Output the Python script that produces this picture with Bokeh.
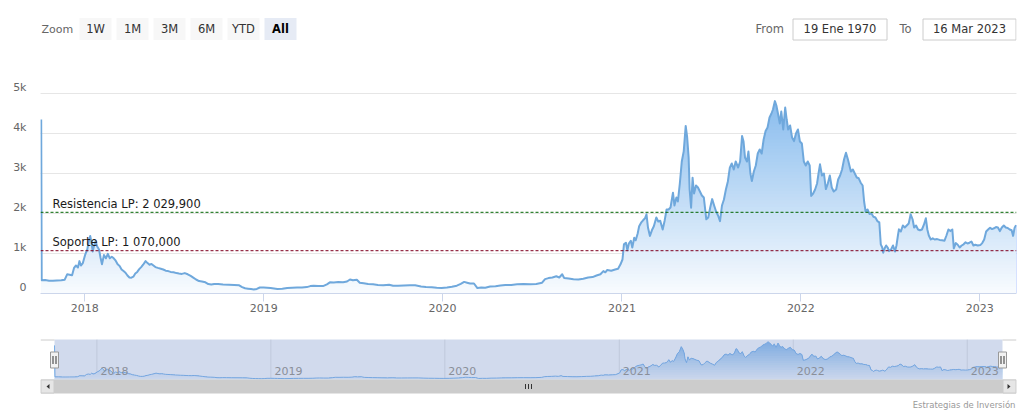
import numpy as np
from bokeh.plotting import figure
from bokeh.models import Range1d, LinearAxis, FixedTicker, DatetimeTickFormatter, Grid, Span, Label
from bokeh.layouts import column
from bokeh.core.properties import value
from bokeh.embed import file_html
from bokeh.resources import INLINE

# ---------------- data ----------------
dates = [
    "2017-10-04", "2017-10-05", "2017-10-12", "2017-10-20", "2017-10-28", "2017-11-05", "2017-11-14", "2017-11-21",
    "2017-11-26", "2017-12-01", "2017-12-06", "2017-12-10", "2017-12-14", "2017-12-18", "2017-12-21", "2017-12-24",
    "2017-12-28", "2018-01-02", "2018-01-06", "2018-01-09", "2018-01-12", "2018-01-15", "2018-01-17", "2018-01-20",
    "2018-01-23", "2018-01-26", "2018-01-30", "2018-02-02", "2018-02-05", "2018-02-09", "2018-02-13", "2018-02-17",
    "2018-02-21", "2018-02-25", "2018-03-01", "2018-03-05", "2018-03-09", "2018-03-13", "2018-03-17", "2018-03-21",
    "2018-03-25", "2018-03-29", "2018-04-02", "2018-04-06", "2018-04-10", "2018-04-14", "2018-04-18", "2018-04-22",
    "2018-04-26", "2018-04-30", "2018-05-05", "2018-05-09", "2018-05-13", "2018-05-17", "2018-05-21", "2018-05-25",
    "2018-05-30", "2018-06-05", "2018-06-10", "2018-06-15", "2018-06-20", "2018-06-25", "2018-07-01", "2018-07-07",
    "2018-07-12", "2018-07-18", "2018-07-24", "2018-07-30", "2018-08-05", "2018-08-11", "2018-08-16", "2018-08-22",
    "2018-08-28", "2018-09-04", "2018-09-10", "2018-09-16", "2018-09-22", "2018-09-30", "2018-10-10", "2018-10-22",
    "2018-11-02", "2018-11-12", "2018-11-18", "2018-11-24", "2018-11-30", "2018-12-06", "2018-12-12", "2018-12-18",
    "2018-12-24", "2019-01-01", "2019-01-08", "2019-01-15", "2019-01-22", "2019-01-29", "2019-02-08", "2019-02-18",
    "2019-02-28", "2019-03-10", "2019-03-20", "2019-03-30", "2019-04-06", "2019-04-13", "2019-04-22", "2019-05-02",
    "2019-05-10", "2019-05-16", "2019-05-24", "2019-06-02", "2019-06-12", "2019-06-20", "2019-06-26", "2019-07-02",
    "2019-07-10", "2019-07-16", "2019-07-24", "2019-08-02", "2019-08-12", "2019-08-22", "2019-09-02", "2019-09-14",
    "2019-09-22", "2019-10-02", "2019-10-14", "2019-10-26", "2019-11-06", "2019-11-18", "2019-11-28", "2019-12-10",
    "2019-12-20", "2019-12-30", "2020-01-10", "2020-01-20", "2020-01-30", "2020-02-07", "2020-02-14", "2020-02-20",
    "2020-02-26", "2020-03-05", "2020-03-12", "2020-03-20", "2020-03-28", "2020-04-07", "2020-04-18", "2020-04-28",
    "2020-05-08", "2020-05-20", "2020-06-01", "2020-06-14", "2020-06-28", "2020-07-10", "2020-07-22", "2020-07-28",
    "2020-08-04", "2020-08-12", "2020-08-20", "2020-08-26", "2020-09-01", "2020-09-05", "2020-09-14", "2020-09-24",
    "2020-10-04", "2020-10-14", "2020-10-24", "2020-11-02", "2020-11-10", "2020-11-18", "2020-11-24", "2020-11-28",
    "2020-12-02", "2020-12-10", "2020-12-18", "2020-12-24", "2020-12-29", "2021-01-02", "2021-01-05", "2021-01-09",
    "2021-01-12", "2021-01-15", "2021-01-19", "2021-01-22", "2021-01-26", "2021-01-29", "2021-02-02", "2021-02-05",
    "2021-02-09", "2021-02-13", "2021-02-17", "2021-02-20", "2021-02-23", "2021-02-27", "2021-03-03", "2021-03-07",
    "2021-03-12", "2021-03-16", "2021-03-20", "2021-03-25", "2021-03-29", "2021-04-02", "2021-04-06", "2021-04-10",
    "2021-04-15", "2021-04-18", "2021-04-22", "2021-04-25", "2021-04-29", "2021-05-03", "2021-05-07", "2021-05-11",
    "2021-05-14", "2021-05-17", "2021-05-19", "2021-05-22", "2021-05-25", "2021-05-28", "2021-06-01", "2021-06-05",
    "2021-06-09", "2021-06-13", "2021-06-17", "2021-06-22", "2021-06-26", "2021-06-30", "2021-07-04", "2021-07-08",
    "2021-07-12", "2021-07-16", "2021-07-20", "2021-07-24", "2021-07-28", "2021-08-01", "2021-08-05", "2021-08-09",
    "2021-08-13", "2021-08-17", "2021-08-21", "2021-08-26", "2021-08-30", "2021-09-03", "2021-09-06", "2021-09-09",
    "2021-09-13", "2021-09-16", "2021-09-20", "2021-09-23", "2021-09-27", "2021-10-01", "2021-10-05", "2021-10-09",
    "2021-10-13", "2021-10-17", "2021-10-21", "2021-10-25", "2021-10-29", "2021-11-02", "2021-11-05", "2021-11-09",
    "2021-11-12", "2021-11-16", "2021-11-19", "2021-11-22", "2021-11-26", "2021-11-30", "2021-12-03", "2021-12-06",
    "2021-12-10", "2021-12-14", "2021-12-18", "2021-12-22", "2021-12-26", "2021-12-30", "2022-01-03", "2022-01-07",
    "2022-01-11", "2022-01-15", "2022-01-19", "2022-01-22", "2022-01-26", "2022-01-30", "2022-02-03", "2022-02-06",
    "2022-02-09", "2022-02-13", "2022-02-17", "2022-02-21", "2022-02-25", "2022-03-01", "2022-03-05", "2022-03-09",
    "2022-03-14", "2022-03-18", "2022-03-22", "2022-03-26", "2022-03-30", "2022-04-03", "2022-04-07", "2022-04-10",
    "2022-04-13", "2022-04-17", "2022-04-21", "2022-04-25", "2022-04-29", "2022-05-03", "2022-05-07", "2022-05-10",
    "2022-05-13", "2022-05-17", "2022-05-21", "2022-05-25", "2022-05-29", "2022-06-02", "2022-06-06", "2022-06-10",
    "2022-06-13", "2022-06-16", "2022-06-18", "2022-06-21", "2022-06-24", "2022-06-27", "2022-06-30", "2022-07-04",
    "2022-07-08", "2022-07-12", "2022-07-15", "2022-07-18", "2022-07-20", "2022-07-24", "2022-07-28", "2022-08-01",
    "2022-08-05", "2022-08-09", "2022-08-13", "2022-08-17", "2022-08-20", "2022-08-24", "2022-08-28", "2022-09-01",
    "2022-09-05", "2022-09-09", "2022-09-13", "2022-09-16", "2022-09-19", "2022-09-23", "2022-09-27", "2022-10-01",
    "2022-10-06", "2022-10-11", "2022-10-16", "2022-10-21", "2022-10-25", "2022-10-29", "2022-11-02", "2022-11-06",
    "2022-11-09", "2022-11-13", "2022-11-17", "2022-11-21", "2022-11-25", "2022-11-29", "2022-12-03", "2022-12-07",
    "2022-12-11", "2022-12-15", "2022-12-19", "2022-12-23", "2022-12-28", "2023-01-02", "2023-01-06", "2023-01-10",
    "2023-01-14", "2023-01-18", "2023-01-22", "2023-01-26", "2023-01-30", "2023-02-03", "2023-02-07", "2023-02-11",
    "2023-02-15", "2023-02-19", "2023-02-23", "2023-02-27", "2023-03-03", "2023-03-07", "2023-03-10", "2023-03-13",
    "2023-03-16",
]
prices = [
    4350, 330, 335, 320, 318, 325, 330, 345,
    480, 470, 455, 640, 700, 650, 810, 700,
    760, 980, 1100, 1300, 1440, 1250, 1050, 1200,
    1310, 1180, 1100, 900, 730, 960, 880, 990,
    880, 920, 880, 820, 730, 690, 600, 560,
    520, 450, 400, 395, 420, 500, 540, 610,
    660, 720, 810, 760, 720, 740, 700, 660,
    640, 620, 600, 570, 560, 540, 530, 510,
    500, 490, 510, 480, 440, 390, 350, 310,
    300, 280, 235, 225, 240, 235, 225, 220,
    215, 205, 160, 130, 120, 110, 100, 115,
    150, 150, 145, 135, 125, 115, 120, 140,
    145, 150, 150, 160, 185, 195, 185, 185,
    230, 280, 275, 285, 280, 300, 350, 330,
    345, 270, 255, 240, 230, 215, 205, 220,
    195, 195, 200, 205, 205, 175, 160, 155,
    145, 140, 150, 170, 195, 240, 290, 270,
    250, 250, 135, 150, 145, 175, 180, 200,
    210, 215, 230, 235, 230, 240, 270, 360,
    385, 400, 430, 400, 480, 390, 375, 355,
    350, 370, 400, 410, 450, 480, 560, 530,
    590, 570, 600, 620, 730, 850, 1230, 1270,
    1080, 1250, 1320, 1150, 1395, 1330, 1500, 1680,
    1770, 1830, 1880, 1980, 1650, 1440, 1580, 1680,
    1900, 1800, 1820, 1600, 1820, 2100, 2100, 2150,
    2520, 2200, 2400, 2300, 2750, 3300, 3560, 4190,
    3900, 3400, 2600, 2145, 2895, 2500, 2700, 2650,
    2550, 2450, 2400, 1855, 1900, 2150, 2360, 2200,
    2050, 1950, 1810, 2200, 2350, 2600, 2800, 3145,
    3250, 3100, 3300, 3150, 3300, 3940, 3800, 3400,
    3300, 3550, 3000, 2810, 3050, 3200, 3500, 3600,
    3500, 3850, 4060, 4150, 4400, 4500, 4600, 4810,
    4700, 4450, 4250, 4550, 4100, 4650, 4350, 4100,
    4200, 3900, 3810, 4000, 4100, 3800, 3750, 3300,
    3200, 3300, 3200, 2440, 2500, 2600, 2750, 3000,
    3230, 2950, 3000, 2610, 2750, 2950, 2650, 2550,
    2600, 2850, 2950, 3100, 3350, 3520, 3350, 3200,
    3050, 3100, 3000, 2900, 2880, 2770, 2700, 2300,
    2050, 2100, 1990, 2000, 1920, 1900, 1810, 1780,
    1230, 1150, 1020, 1130, 1200, 1150, 1060, 1100,
    1200, 1050, 1200, 1450, 1605, 1550, 1700, 1650,
    1700, 1750, 1980, 1850, 1650, 1700, 1600, 1580,
    1600, 1720, 1880, 1600, 1450, 1350, 1380, 1350,
    1360, 1340, 1330, 1320, 1450, 1600, 1560, 1600,
    1130, 1260, 1220, 1150, 1200, 1230, 1280, 1250,
    1270, 1300, 1200, 1220, 1200, 1210, 1260, 1350,
    1550, 1600, 1645, 1610, 1630, 1660, 1650, 1560,
    1650, 1700, 1650, 1640, 1600, 1580, 1440, 1640,
    1710,
]
year_ticks = ["2018-01-01", "2019-01-01", "2020-01-01", "2021-01-01", "2022-01-01", "2023-01-01"]
year_labels = ["2018", "2019", "2020", "2021", "2022", "2023"]
y_ticks = [0, 1000, 2000, 3000, 4000, 5000]
y_tick_labels = ["0", "1k", "2k", "3k", "4k", "5k"]
y_grid = [1000, 2000, 3000, 4000, 5000, 6000]
y_max = 6000
view_start = "2017-10-02T14:00"
view_end = "2023-03-16T22:00"
resist_level = 2029.9
resist_label = "Resistencia LP: 2 029,900"
support_level = 1070.0
support_label = "Soporte LP: 1 070,000"
zoom_title = "Zoom"
zoom_buttons = ["1W", "1M", "3M", "6M", "YTD", "All"]
selected_button = "All"
from_label, to_label = "From", "To"
date_from = "19 Ene 1970"
date_to = "16 Mar 2023"
credit = "Estrategias de Inversión"

FONT = "DejaVu Sans"
W = 1024                 # page width used
FL, FR = 40, 1016        # plot frame left / right (page px)
BORDER = dict(min_border_left=FL, min_border_right=W - FR)
MAIN_FRAME_H = 240

t = np.array(dates, dtype="datetime64[ms]").astype("int64").astype(float)
v = np.array(prices, dtype=float)
yt = np.array(year_ticks, dtype="datetime64[ms]").astype("int64").astype(float)
x0 = float(np.datetime64(view_start, "ms").astype("int64"))
x1 = float(np.datetime64(view_end, "ms").astype("int64"))


def grad(f):
    a = 0.05 + 0.85 * f
    base = (124, 181, 236)
    c = [int(round(255 - (255 - b) * a)) for b in base]
    return "#%02x%02x%02x" % tuple(c)


def bare(fig):
    fig.outline_line_color = None
    fig.xgrid.visible = False
    fig.ygrid.visible = False


# ---------------- header (range selector), page coords ----------------
HT, HB = 0, 53
h = figure(width=W, height=HB - HT, x_range=Range1d(FL, FR), y_range=Range1d(HB, HT),
           x_axis_location=None, y_axis_location=None, toolbar_location=None,
           output_backend="svg", min_border_top=0, min_border_bottom=0, **BORDER)
bare(h)
ty = 28.5
h.text(x=[41], y=[ty], text=[zoom_title], text_font=value(FONT), text_font_size="11px",
       text_color="#666666", text_align="left", text_baseline="middle")
bx = [95 + 37 * i for i in range(len(zoom_buttons))]
fills = ["#e6ebf5" if b == selected_button else "#f7f7f7" for b in zoom_buttons]
h.quad(left=[c - 16 for c in bx], right=[c + 16 for c in bx], top=[17.5] * len(bx), bottom=[39.5] * len(bx),
       fill_color=fills, line_color=None)
norm = [i for i, b in enumerate(zoom_buttons) if b != selected_button]
sel = [i for i, b in enumerate(zoom_buttons) if b == selected_button]
h.text(x=[bx[i] for i in norm], y=[ty] * len(norm), text=[zoom_buttons[i] for i in norm],
       text_font=value(FONT), text_font_size="11.5px", text_color="#333333",
       text_align="center", text_baseline="middle")
h.text(x=[bx[i] for i in sel], y=[ty] * len(sel), text=[zoom_buttons[i] for i in sel],
       text_font=value(FONT), text_font_size="11.5px", text_font_style="bold", text_color="#000000",
       text_align="center", text_baseline="middle")
h.text(x=[755, 899], y=[ty, ty], text=[from_label, to_label], text_font=value(FONT),
       text_font_size="11.5px", text_color="#666666", text_align="left", text_baseline="middle")
h.quad(left=[792.5, 922.5], right=[886.5, 1015.5], top=[18.5, 18.5], bottom=[39.5, 39.5],
       fill_color="#ffffff", line_color="#cccccc", line_width=1)
h.text(x=[839.5, 969], y=[ty, ty], text=[date_from, date_to], text_font=value(FONT),
       text_font_size="11.5px", text_color="#333333", text_align="center", text_baseline="middle")

# ---------------- main chart ----------------
p = figure(width=W, height=MAIN_FRAME_H + 32, x_range=Range1d(x0, x1), y_range=Range1d(0, y_max),
           x_axis_type="datetime", y_axis_location=None, toolbar_location=None,
           output_backend="svg", min_border_top=0, min_border_bottom=32, **BORDER)
p.outline_line_color = None
p.xgrid.visible = False
p.add_layout(Grid(dimension=1, ticker=FixedTicker(ticks=y_grid), grid_line_color="#e6e6e6"), "center")

vmax = v.max()
N = 60
for k in range(N):
    top = vmax * (1 - k / N)
    mid = vmax * (1 - (k + 0.5) / N)
    p.varea(x=t, y1=0, y2=np.minimum(v, top), fill_color=grad(mid / vmax), fill_alpha=1.0)
p.line(t, v, line_color="#6fa8dc", line_width=2, line_join="round")

p.add_layout(Span(location=resist_level, dimension="width", line_color="#006400",
                  line_dash="3 2", line_width=1))
p.add_layout(Span(location=support_level, dimension="width", line_color="#800020",
                  line_dash="3 2", line_width=1))
ms_per_px = (x1 - x0) / (FR - FL)
val_per_px = y_max / MAIN_FRAME_H
for lvl, txt in [(resist_level, resist_label), (support_level, support_label)]:
    p.add_layout(Label(x=x0 + 12 * ms_per_px, y=lvl + 8.5 * val_per_px, text=txt, text_font=FONT,
                       text_font_size="11.5px", text_color="#1a1a1a", text_baseline="alphabetic"))

xa = p.xaxis[0]
xa.ticker = FixedTicker(ticks=list(yt))
xa.formatter = DatetimeTickFormatter(years="%Y", months="%Y", days="%Y", hours="%Y",
                                     minutes="%Y", seconds="%Y", milliseconds="%Y", microseconds="%Y")
xa.axis_line_color = "#ccd6eb"
xa.major_tick_line_color = "#ccd6eb"
xa.major_tick_out = 8
xa.major_tick_in = 0
xa.minor_tick_line_color = None
xa.major_label_standoff = 2
xa.major_label_text_font = FONT
xa.major_label_text_font_size = "11px"
xa.major_label_text_color = "#666666"

shift = 6 * val_per_px
p.extra_y_ranges = {"ylab": Range1d(-shift, y_max - shift)}
ya = LinearAxis(y_range_name="ylab", ticker=FixedTicker(ticks=y_ticks),
                major_label_overrides={k: s for k, s in zip(y_ticks, y_tick_labels)})
ya.axis_line_color = None
ya.major_tick_line_color = None
ya.minor_tick_line_color = None
ya.major_tick_out = 0
ya.major_tick_in = 0
ya.major_label_standoff = 14
ya.major_label_text_font = FONT
ya.major_label_text_font_size = "11px"
ya.major_label_text_color = "#666666"
p.add_layout(ya, "left")

# ---------------- navigator + scrollbar, page coords ----------------
NT, NB = 325, 413
nav_l, nav_r, nav_t, nav_b = 54, 1002, 339, 379
vtop = 5100.0
n = figure(width=W, height=NB - NT, x_range=Range1d(FL, FR), y_range=Range1d(NB, NT),
           x_axis_location=None, y_axis_location=None, toolbar_location=None,
           output_backend="svg", min_border_top=0, min_border_bottom=0, **BORDER)
bare(n)
mpp = (t[-1] - t[0]) / (nav_r - nav_l)
vpp = vtop / (nav_b - nav_t)
n.extra_x_ranges = {"d": Range1d(t[0] - (nav_l - FL) * mpp, t[-1] + (FR - nav_r) * mpp)}
n.extra_y_ranges = {"v": Range1d(-(NB - nav_b) * vpp, vtop + (nav_t - NT) * vpp)}

n.segment(x0=yt, y0=[0] * len(yt), x1=yt, y1=[vtop] * len(yt), x_range_name="d", y_range_name="v",
          line_color="#e6e6e6", line_width=1)
NN = 16
for k in range(NN):
    top = vmax * (1 - k / NN)
    mid = vmax * (1 - (k + 0.5) / NN)
    n.varea(x=t, y1=0, y2=np.minimum(v, top), fill_color=grad(mid / vmax), fill_alpha=1.0,
            x_range_name="d", y_range_name="v")
n.line(t, v, line_color="#7cb5ec", line_width=1, x_range_name="d", y_range_name="v")
# mask over the selected range (whole range)
n.quad(left=[nav_l], right=[nav_r], top=[nav_t], bottom=[nav_b], fill_color="#6685c2",
       fill_alpha=0.3, line_color=None)
n.text(x=yt + 3.5 * mpp, y=[8.5 * vpp] * len(yt), text=year_labels, x_range_name="d",
       y_range_name="v", text_font=value(FONT), text_font_size="11px", text_color="#8a8f99",
       text_align="left", text_baseline="alphabetic")
# outline
n.segment(x0=[FL, nav_r], y0=[nav_t + 0.5] * 2, x1=[nav_l, FR], y1=[nav_t + 0.5] * 2,
          line_color="#cccccc", line_width=1)
# scrollbar
sb_t, sb_b = nav_b, nav_b + 14
n.quad(left=[FL], right=[FR], top=[sb_t], bottom=[sb_b], fill_color="#cccccc", line_color=None)
n.quad(left=[FL + 0.5, nav_r + 0.5], right=[nav_l - 0.5, FR - 0.5], top=[sb_t + 0.5] * 2,
       bottom=[sb_b - 0.5] * 2, fill_color="#e6e6e6", line_color="#cccccc", line_width=1)
cy = (sb_t + sb_b) / 2
n.patches(xs=[[49, 49, 46], [1007, 1007, 1010]],
          ys=[[cy - 2.5, cy + 2.5, cy], [cy - 2.5, cy + 2.5, cy]], fill_color="#333333", line_color=None)
rx = (nav_l + nav_r) / 2
n.segment(x0=[rx - 3, rx, rx + 3], y0=[cy - 2.5] * 3, x1=[rx - 3, rx, rx + 3], y1=[cy + 2.5] * 3,
          line_color="#333333", line_width=1)
# handles
for cx in (nav_l, nav_r):
    n.quad(left=[cx - 4], right=[cx + 4], top=[351.5], bottom=[367.5], fill_color="#f2f2f2",
           line_color="#999999", line_width=1)
    n.segment(x0=[cx - 1.5, cx + 1.5], y0=[355.5, 355.5], x1=[cx - 1.5, cx + 1.5], y1=[363.5, 363.5],
              line_color="#333333", line_width=1)
# credit
n.text(x=[1015], y=[404], text=[credit], text_font=value(FONT), text_font_size="8.5px",
       text_color="#999999", text_align="right", text_baseline="alphabetic")

layout = column(h, p, n, spacing=0)
open("out.html", "w").write(file_html(layout, INLINE))
